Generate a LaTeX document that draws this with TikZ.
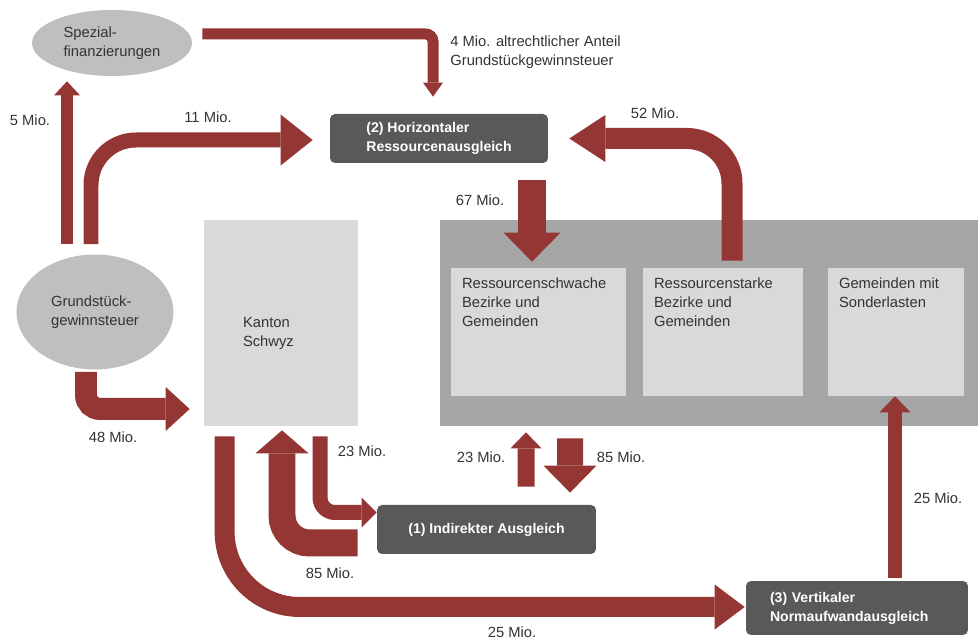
\documentclass[tikz,border=0pt]{standalone}
\usepackage{fontspec}
\setmainfont{Liberation Sans}
\usetikzlibrary{positioning, shapes.geometric, arrows.meta, calc}
\definecolor{flowred}{HTML}{943634}
\definecolor{boxdark}{HTML}{595959}
\definecolor{ovalgray}{HTML}{BFBFBF}
\definecolor{boxlight}{HTML}{D9D9D9}
\definecolor{areagray}{HTML}{A6A6A6}
\definecolor{textgray}{HTML}{333333}

\begin{document}
\begin{tikzpicture}[
    x=0.02cm, y=-0.02cm,
    every node/.style={font=\fontsize{8.4}{10.8}\selectfont, text=textgray},
    oval/.style={ellipse, fill=ovalgray, align=left, inner sep=0pt},
    lightbox/.style={rectangle, fill=boxlight, inner sep=0pt},
    darkbox/.style={rectangle, rounded corners=0.1cm, fill=boxdark, text=white, align=left,
        inner sep=0pt, font=\fontsize{8}{10.8}\selectfont\bfseries},
    boxtext/.style={anchor=north west, align=left, inner xsep=0.22cm, inner ysep=0.2cm},
    amount/.style={inner sep=0pt},
    flow/.style n args={3}{draw=flowred, line width=#1cm,
        -{Triangle[width=#2cm, length=#3cm, line width=0pt]}}
]
    \useasboundingbox (0,0) rectangle (978,644);

    % gray band with the municipalities
    \node[rectangle, fill=areagray, minimum width=10.76cm, minimum height=4.12cm, inner sep=0pt] (ebene) at (709,323) {};
    \node[lightbox, minimum width=3.5cm, minimum height=2.56cm,
        label={[boxtext]north west:Ressourcenschwache\\Bezirke und\\Gemeinden}] (schwach) at (538.5,332) {};
    \node[lightbox, minimum width=3.2cm, minimum height=2.56cm,
        label={[boxtext]north west:Ressourcenstarke\\Bezirke und\\Gemeinden}] (starke) at (723,332) {};
    \node[lightbox, minimum width=2.72cm, minimum height=2.56cm,
        label={[boxtext]north west:Gemeinden mit\\Sonderlasten}] (sonder) at (896,332) {};

    % canton and sources
    \node[lightbox, minimum width=3.08cm, minimum height=4.12cm,
        label={[align=left, anchor=west, inner sep=0pt, xshift=0.78cm, yshift=-0.2cm]west:Kanton\\Schwyz}] (kanton) at (281,323) {};
    \node[oval, minimum width=3.2cm, minimum height=1.32cm] (spez) at (112,43) {Spezial-\\finanzierungen};
    \node[oval, minimum width=3.14cm, minimum height=2.3cm] (grund) at (95,312) {Grundstück-\\gewinnsteuer};

    % the three instruments
    \node[darkbox, minimum width=4.36cm, minimum height=0.98cm] (hor) at (439,138.5) {(2) Horizontaler\\Ressourcenausgleich};
    \node[darkbox, minimum width=4.38cm, minimum height=0.98cm] (ind) at (486.5,529.5) {(1) Indirekter Ausgleich};
    \node[darkbox, minimum height=1.08cm, text width=3.48cm, inner xsep=0.48cm] (vert) at (857,608) {(3) Vertikaler\\Normaufwandausgleich};

    % flows
    \draw[flow={0.26}{0.52}{0.28}] ($(grund.north)+(-28,-10)$) -- ($(spez.south)+(-45,5)$);
    \draw[flow={0.3}{1.02}{0.64}, rounded corners=0.9cm] ($(grund.north)+(-4,-10)$) |- ($(hor.west)+(-17,1.5)$);
    \draw[flow={0.22}{0.4}{0.28}, rounded corners=0.15cm] ($(spez.east)+(10,-9)$) -| ($(hor.north)+(-6,-17)$);
    \draw[flow={0.42}{0.94}{0.72}, rounded corners=0.9cm] ($(starke.north)+(9,-7)$) |- ($(hor.east)+(21,0)$);
    \draw[flow={0.56}{1.14}{0.58}] ($(hor.south)+(93,17)$) -- ($(schwach.north)+(-6.5,-6)$);
    \draw[flow={0.44}{0.88}{0.48}, rounded corners=0.28cm] ($(grund.south)+(-9,2)$) |- ($(kanton.west)+(-14,86)$);
    \draw[flow={0.3}{0.6}{0.3}, rounded corners=0.3cm] ($(kanton.south)+(39,10)$) |- ([yshift=0.34cm]ind.west);
    \draw[flow={0.54}{1.06}{0.46}, rounded corners=0.55cm] ($(ind.west)+(-19,13.5)$) -| ($(kanton.south)+(1,4)$);
    \draw[flow={0.4}{0.9}{0.6}, rounded corners=1.5cm] ($(kanton.south west)+(21,10)$) |- ($(vert.west)+(-1,-1)$);
    \draw[flow={0.34}{0.62}{0.32}] ($(ind.north)+(39.5,-18)$) -- ($(ebene.south)+(-183,6)$);
    \draw[flow={0.52}{1.06}{0.54}] ($(ebene.south)+(-139,12)$) -- ($(ind.north)+(83.5,-12)$);
    \draw[flow={0.28}{0.62}{0.32}] ($(vert.north)+(38,-3)$) -- ($(sonder.south)+(-1,0)$);

    % amounts
    \node[amount] (m5) at (30,120) {5 Mio.};
    \node[amount] (m11) at (208,117) {11 Mio.};
    \node[amount, anchor=west, align=left] (m4) at (450,52.5) {4 Mio. altrechtlicher Anteil\\Grundstückgewinnsteuer};
    \node[amount] (m52) at (655,113) {52 Mio.};
    \node[amount] (m67) at (480,200) {67 Mio.};
    \node[amount] (m48) at (113,437) {48 Mio.};
    \node[amount] (m23k) at (362,451) {23 Mio.};
    \node[amount] (m23g) at (481,457) {23 Mio.};
    \node[amount] (m85g) at (621,457) {85 Mio.};
    \node[amount] (m85k) at (330,573) {85 Mio.};
    \node[amount] (m25s) at (938,498) {25 Mio.};
    \node[amount] (m25v) at (512,632) {25 Mio.};
\end{tikzpicture}
\end{document}
